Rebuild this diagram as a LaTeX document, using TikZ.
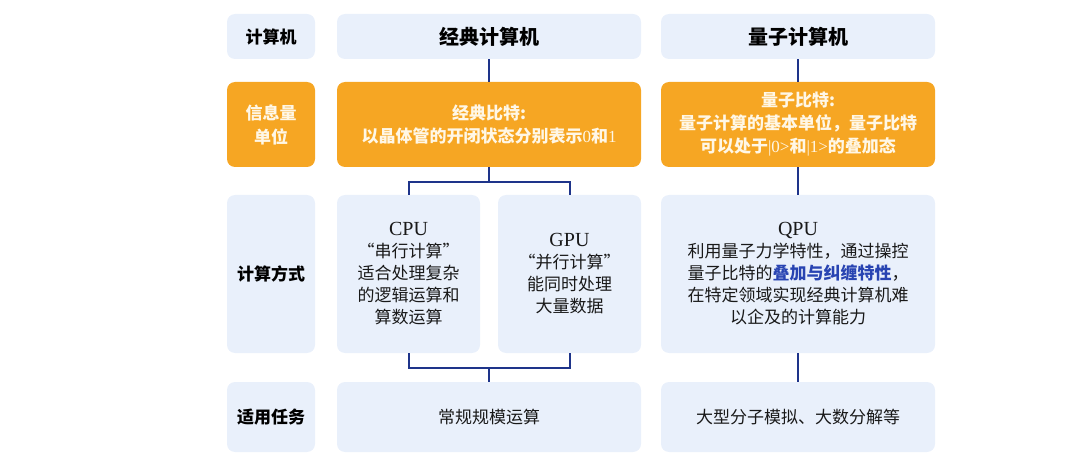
\documentclass[tikz,border=0pt]{standalone}
\usepackage{fontspec}
\setmainfont{Liberation Serif}
\newfontfamily\cjk{Noto Sans CJK SC}
\definecolor{Paleblue}{RGB}{233,240,251}
\definecolor{Amber}{RGB}{246,166,35}
\definecolor{Navy}{RGB}{30,52,138}
\definecolor{Cream}{RGB}{255,247,230}
\definecolor{Keyblue}{RGB}{40,68,178}
\newcommand{\chipname}[1]{{\normalfont\fontsize{20}{24}\selectfont #1}} % Parameter: chip label
\newcommand{\latin}[1]{{\normalfont #1}} % Parameter: digits in serif

\begin{document}
\begin{tikzpicture}[x=1pt,y=-1pt,
    cell/.style={fill=Paleblue,rounded corners=8pt,inner sep=0pt,align=center,
      text=black!90,font=\cjk\fontsize{17}{22}\selectfont},
    rowlabel/.style={cell,minimum width=88pt,text=black,font=\cjk\bfseries\fontsize{17}{24}\selectfont},
    unit/.style={cell,fill=Amber,text=Cream,font=\cjk\bfseries\fontsize{17}{23}\selectfont},
    link/.style={draw=Navy,line width=2pt}]
    \useasboundingbox (0,0) rectangle (1080,476);
    % row labels
    \node[rowlabel,minimum height=45pt] (lab1) at (271,36.5) {计算机};
    \node[rowlabel,minimum height=85pt,fill=Amber,text=Cream] (lab2) at (271,124.5) {信息量\\单位};
    \node[rowlabel,minimum height=158pt] (lab3) at (271,274) {计算方式};
    \node[rowlabel,minimum height=70pt] (lab4) at (271,417) {适用任务};
    % classic column
    \node[cell,minimum width=304pt,minimum height=45pt,text=black,font=\cjk\bfseries\fontsize{20}{24}\selectfont] (ch) at (489,36.5) {经典计算机};
    \node[unit,minimum width=304pt,minimum height=85pt] (cu) at (489,124.5) {经典比特:\\以晶体管的开闭状态分别表示\latin{0}和\latin{1}};
    \node[cell,minimum width=143pt,minimum height=158pt] (cpu) at (408.5,274) {\chipname{CPU}\\“串行计算”\\适合处理复杂\\的逻辑运算和\\算数运算};
    \node[cell,minimum width=143pt,minimum height=158pt] (gpu) at (569.5,274) {\chipname{GPU}\\“并行计算”\\能同时处理\\大量数据};
    \node[cell,minimum width=304pt,minimum height=70pt] (ct) at (489,417) {常规规模运算};
    % quantum column
    \node[cell,minimum width=274pt,minimum height=45pt,text=black,font=\cjk\bfseries\fontsize{20}{24}\selectfont] (qh) at (798,36.5) {量子计算机};
    \node[unit,minimum width=274pt,minimum height=85pt] (qu) at (798,124.5) {量子比特:\\量子计算的基本单位，量子比特\\可以处于\latin{|0>}和\latin{|1>}的叠加态};
    \node[cell,minimum width=274pt,minimum height=158pt] (qpu) at (798,274) {\chipname{QPU}\\利用量子力学特性，通过操控\\量子比特的{\color{Keyblue}\bfseries 叠加与纠缠特性}，\\在特定领域实现经典计算机难\\以企及的计算能力};
    \node[cell,minimum width=274pt,minimum height=70pt] (qt) at (798,417) {大型分子模拟、大数分解等};
    % connectors
    \coordinate (topbus) at (489,182);
    \coordinate (lowbus) at (489,368);
    \draw[link] (ch) -- (cu);
    \draw[link] (cu.south) -- (topbus);
    \draw[link] (cpu.north) |- (topbus) -| (gpu.north);
    \draw[link] (cpu.south) |- (lowbus) -| (gpu.south);
    \draw[link] (lowbus) -- (ct.north);
    \draw[link] (qh) -- (qu);
    \draw[link] (qu) -- (qpu);
    \draw[link] (qpu) -- (qt);
\end{tikzpicture}
\end{document}
